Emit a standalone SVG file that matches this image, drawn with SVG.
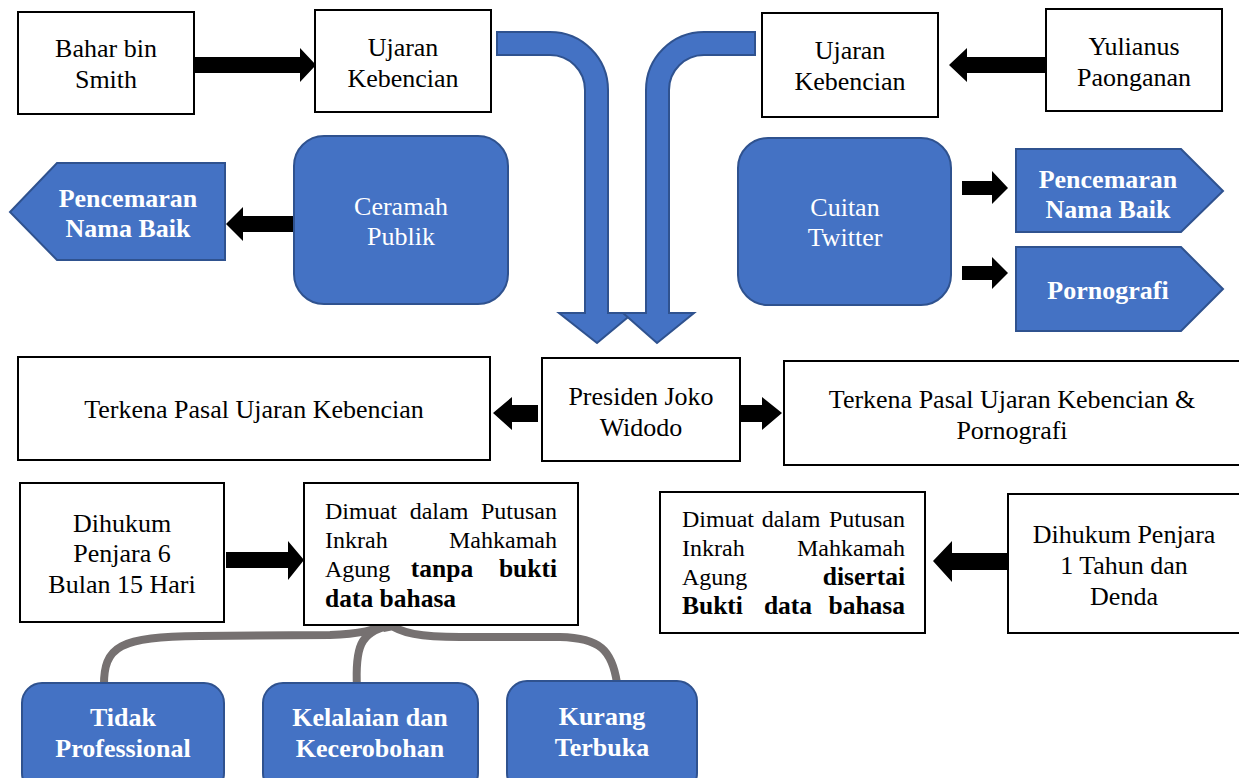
<svg xmlns="http://www.w3.org/2000/svg" width="1239" height="778" viewBox="0 0 1239 778" font-family="Liberation Serif, Times New Roman, serif">
<style>
.box{fill:#fff;stroke:#000;stroke-width:2}
.blue{fill:#4472C4;stroke:#2F528F;stroke-width:2}
.arr{fill:#000}
text{font-family:'Liberation Serif',serif}
.t{font-size:26px;fill:#000;text-anchor:middle}
.tw{font-size:26px;fill:#fff;text-anchor:middle}
.tb{font-size:26px;font-weight:bold;fill:#fff;text-anchor:middle}
.j{font-size:24px;fill:#000}
.jb{font-weight:bold;font-size:25.5px}
.gray{fill:none;stroke:#767171;stroke-width:8;stroke-linecap:butt}
</style>
<rect width="1239" height="778" fill="#fff"/>

<g id="connectors">
  <path class="blue" d="M497,32 L550,32 A58,58 0 0 1 608,90 L608,313 L633,313 L597,343 L559,313 L585,313 L585,90 A35,35 0 0 0 550,55 L497,55 Z"/>
  <path class="blue" d="M755,32 L704,32 A58,58 0 0 0 646,90 L646,313 L623,313 L657,343 L694,313 L669,313 L669,90 A35,35 0 0 1 704,55 L755,55 Z"/>
  <polygon class="arr" points="195,57 300,57 300,48 316,65 300,82 300,73 195,73"/>
  <polygon class="arr" points="1046,57 967,57 967,48 949,65 967,82 967,73 1046,73"/>
  <polygon class="arr" points="294,216 243,216 243,207 226,224 243,241 243,232 294,232"/>
  <polygon class="arr" points="962,181 992,181 992,171 1008,188 992,204 992,195 962,195"/>
  <polygon class="arr" points="962,266 992,266 992,257 1008,273 992,289 992,280 962,280"/>
  <polygon class="arr" points="538,405 512,405 512,397 493,413 512,430 512,422 538,422"/>
  <polygon class="arr" points="740,405 762,405 762,397 782,413 762,430 762,422 740,422"/>
  <polygon class="arr" points="226,552 288,552 288,541 304,560 288,580 288,568 226,568"/>
  <polygon class="arr" points="1008,553 952,553 952,541 933,561 952,582 952,570 1008,570"/>
  <path class="gray" d="M104,688 C103,645 120,637 200,636 L330,635 C360,634 375,630 390,624"/>
  <path class="gray" d="M357,688 C355,648 360,632 388,626"/>
  <path class="gray" d="M390,624 C400,633 420,637 460,637 L560,637 C600,638 612,650 617,683"/>
  <polygon fill="#767171" points="376,622 402,620 394,630 384,632"/>
</g>

<g id="bahar"><rect class="box" x="18" y="12" width="176" height="102"/><text class="t" x="106" y="57">Bahar bin</text><text class="t" x="106" y="88">Smith</text></g>
<g id="ujaran1"><rect class="box" x="315" y="10" width="176" height="102"/><text class="t" x="403" y="56">Ujaran</text><text class="t" x="403" y="87">Kebencian</text></g>
<g id="ujaran2"><rect class="box" x="762" y="13" width="176" height="104"/><text class="t" x="850" y="59">Ujaran</text><text class="t" x="850" y="90">Kebencian</text></g>
<g id="yulianus"><rect class="box" x="1046" y="9" width="176" height="102"/><text class="t" x="1134" y="55">Yulianus</text><text class="t" x="1134" y="86">Paonganan</text></g>

<g id="ceramah"><rect class="blue" x="294" y="136" width="214" height="168" rx="30"/><text class="tw" x="401" y="215">Ceramah</text><text class="tw" x="401" y="245">Publik</text></g>
<g id="cuitan"><rect class="blue" x="738" y="138" width="213" height="167" rx="30"/><text class="tw" x="845" y="216">Cuitan</text><text class="tw" x="845" y="246">Twitter</text></g>

<g id="pencemaran1"><polygon class="blue" points="225,163 225,260 57,260 10,212 57,163"/><text class="tb" x="128" y="207">Pencemaran</text><text class="tb" x="128" y="237">Nama Baik</text></g>
<g id="pencemaran2"><polygon class="blue" points="1016,149 1181,149 1223,191 1181,232 1016,232"/><text class="tb" x="1108" y="188">Pencemaran</text><text class="tb" x="1108" y="218">Nama Baik</text></g>
<g id="pornografi"><polygon class="blue" points="1016,247 1181,247 1223,289 1181,331 1016,331"/><text class="tb" x="1108" y="299">Pornografi</text></g>

<g id="terkena1"><rect class="box" x="18" y="357" width="472" height="103"/><text class="t" x="254" y="418">Terkena Pasal Ujaran Kebencian</text></g>
<g id="presiden"><rect class="box" x="542" y="358" width="198" height="103"/><text class="t" x="641" y="405">Presiden Joko</text><text class="t" x="641" y="436">Widodo</text></g>
<g id="terkena2"><rect class="box" x="784" y="361" width="460" height="104"/><text class="t" x="1012" y="408">Terkena Pasal Ujaran Kebencian &amp;</text><text class="t" x="1012" y="439">Pornografi</text></g>

<g id="dihukum1"><rect class="box" x="20" y="483" width="204" height="139"/><text class="t" x="122" y="532">Dihukum</text><text class="t" x="122" y="562">Penjara 6</text><text class="t" x="122" y="593">Bulan 15 Hari</text></g>
<g id="dimuat1"><rect class="box" x="304" y="483" width="274" height="142"/>
  <text class="j" x="325" y="519">Dimuat</text><text class="j" x="439" y="519" text-anchor="middle">dalam</text><text class="j" x="557" y="519" text-anchor="end">Putusan</text>
  <text class="j" x="325" y="548">Inkrah</text><text class="j" x="557" y="548" text-anchor="end">Mahkamah</text>
  <text class="j" x="325" y="577">Agung</text><text class="j jb" x="442" y="577" text-anchor="middle">tanpa</text><text class="j jb" x="557" y="577" text-anchor="end">bukti</text>
  <text class="j jb" x="325" y="607">data bahasa</text>
</g>
<g id="dimuat2"><rect class="box" x="660" y="492" width="265" height="141"/>
  <text class="j" x="682" y="527">Dimuat</text><text class="j" x="791" y="527" text-anchor="middle">dalam</text><text class="j" x="905" y="527" text-anchor="end">Putusan</text>
  <text class="j" x="682" y="556">Inkrah</text><text class="j" x="905" y="556" text-anchor="end">Mahkamah</text>
  <text class="j" x="682" y="585">Agung</text><text class="j jb" x="905" y="585" text-anchor="end">disertai</text>
  <text class="j jb" x="682" y="614">Bukti</text><text class="j jb" x="788" y="614" text-anchor="middle">data</text><text class="j jb" x="905" y="614" text-anchor="end">bahasa</text>
</g>
<g id="dihukum2"><rect class="box" x="1008" y="494" width="236" height="139"/><text class="t" x="1124" y="543">Dihukum Penjara</text><text class="t" x="1124" y="574">1 Tahun dan</text><text class="t" x="1124" y="605">Denda</text></g>

<g id="tidak"><rect class="blue" x="22" y="683" width="202" height="110" rx="20"/><text class="tb" x="123" y="726">Tidak</text><text class="tb" x="123" y="757">Professional</text></g>
<g id="kelalaian"><rect class="blue" x="263" y="683" width="215" height="110" rx="20"/><text class="tb" x="370" y="726">Kelalaian dan</text><text class="tb" x="370" y="757">Kecerobohan</text></g>
<g id="kurang"><rect class="blue" x="507" y="681" width="190" height="112" rx="20"/><text class="tb" x="602" y="725">Kurang</text><text class="tb" x="602" y="756">Terbuka</text></g>
</svg>
